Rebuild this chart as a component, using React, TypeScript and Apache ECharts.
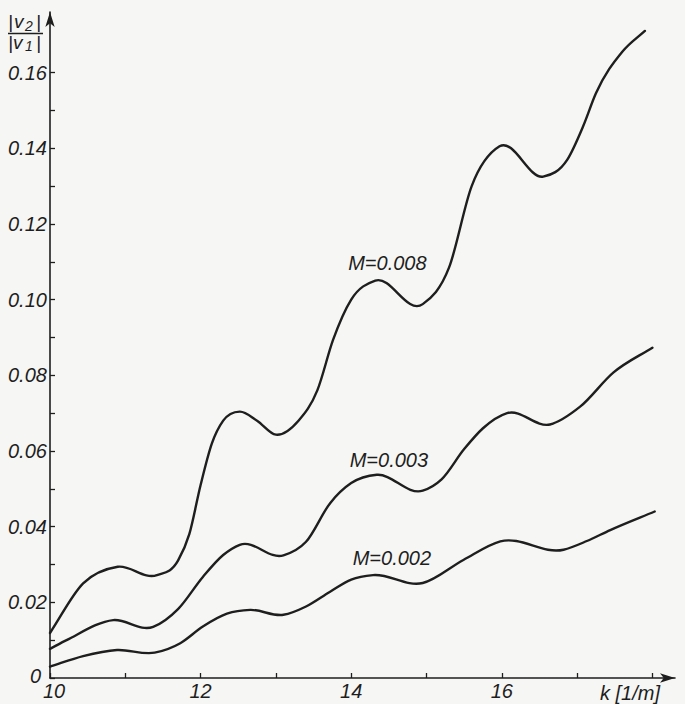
import React, { useEffect, useRef } from "react";
import * as echarts from "echarts";

// M = 0.002 : wave number k [1/m] and |v2|/|v1|
const k002 = [10, 10.44, 10.89, 11.39, 11.73, 12.03, 12.35, 12.66, 13.1, 13.4, 13.72, 14.0, 14.29, 14.95, 15.49, 15.98, 16.82, 17.13, 17.44, 18.03];
const v002 = [0.003, 0.0058, 0.0074, 0.0067, 0.0092, 0.0136, 0.017, 0.018, 0.0167, 0.0189, 0.0228, 0.026, 0.0272, 0.0251, 0.0312, 0.0361, 0.0339, 0.0362, 0.0391, 0.044];
// M = 0.003
const k003 = [10, 10.22, 10.84, 11.37, 11.7, 12.03, 12.3, 12.52, 13.1, 13.4, 13.72, 14.0, 14.34, 14.95, 15.2, 15.5, 15.75, 16.07, 16.64, 17.04, 17.48, 18.0];
const v003 = [0.0077, 0.01, 0.0153, 0.0135, 0.0182, 0.0267, 0.0325, 0.0352, 0.0324, 0.036, 0.0462, 0.0515, 0.0537, 0.0495, 0.0525, 0.0605, 0.066, 0.07, 0.067, 0.0717, 0.0807, 0.0873];
// M = 0.008
const k008 = [10, 10.44, 10.9, 11.42, 11.7, 11.85, 12.0, 12.15, 12.3, 12.52, 12.75, 13.0, 13.3, 13.55, 13.76, 14.0, 14.32, 14.95, 15.3, 15.6, 15.97, 16.55, 16.87, 17.08, 17.25, 17.6, 17.9];
const v008 = [0.0119, 0.025, 0.0294, 0.0272, 0.031, 0.038, 0.051, 0.062, 0.068, 0.0704, 0.068, 0.0643, 0.068, 0.076, 0.0894, 0.1, 0.105, 0.0988, 0.1085, 0.13, 0.1405, 0.1325, 0.137, 0.1458, 0.1545, 0.1655, 0.171];

// axis ticks and labels
const xLabelValues = [10, 12, 14, 16];
const xTickValues = [10, 11, 12, 13, 14, 15, 16, 17, 18];
const yLabelValues = [0, 0.02, 0.04, 0.06, 0.08, 0.1, 0.12, 0.14, 0.16];
const yTickValues = [0, 0.01, 0.02, 0.03, 0.04, 0.05, 0.06, 0.07, 0.08, 0.09, 0.1, 0.11, 0.12, 0.13, 0.14, 0.15, 0.16];

// curve annotations
const curveLabelText = ["M=0.008", "M=0.003", "M=0.002"];
const curveLabelK = [13.96, 13.98, 14.02];
const curveLabelV = [0.1097, 0.0576, 0.0317];

const INK = "#1e1e1e";
const FONT = '"Liberation Sans", sans-serif';

// smooth cubic Hermite path (x-parameterised) through pixel points
function splinePath(pts: number[][]): string {
  const n = pts.length;
  if (n < 2) return "";
  const slopes: number[] = [];
  for (let i = 0; i < n; i++) {
    if (i === 0) {
      slopes.push((pts[1][1] - pts[0][1]) / (pts[1][0] - pts[0][0]));
    } else if (i === n - 1) {
      slopes.push((pts[n - 1][1] - pts[n - 2][1]) / (pts[n - 1][0] - pts[n - 2][0]));
    } else {
      const h0 = pts[i][0] - pts[i - 1][0];
      const h1 = pts[i + 1][0] - pts[i][0];
      const d0 = (pts[i][1] - pts[i - 1][1]) / h0;
      const d1 = (pts[i + 1][1] - pts[i][1]) / h1;
      slopes.push((h1 * d0 + h0 * d1) / (h0 + h1));
    }
  }
  let d = `M${pts[0][0]},${pts[0][1]}`;
  for (let i = 0; i < n - 1; i++) {
    const h = pts[i + 1][0] - pts[i][0];
    const c1x = pts[i][0] + h / 3;
    const c1y = pts[i][1] + (slopes[i] * h) / 3;
    const c2x = pts[i + 1][0] - h / 3;
    const c2y = pts[i + 1][1] - (slopes[i + 1] * h) / 3;
    d += ` C${c1x},${c1y} ${c2x},${c2y} ${pts[i + 1][0]},${pts[i + 1][1]}`;
  }
  return d;
}

export default function App() {
  const ref = useRef<HTMLDivElement>(null);

  useEffect(() => {
    if (!ref.current) return;
    const chart = echarts.init(ref.current, null, { renderer: "svg" });

    const curveSeries = (name: string, ks: number[], vs: number[]) => ({
      name,
      type: "custom",
      coordinateSystem: "cartesian2d",
      data: ks.map((k, i) => [k, vs[i]]),
      encode: { x: 0, y: 1 },
      silent: true,
      clip: false,
      renderItem: (params: any, api: any) => {
        if (params.dataIndex !== 0) return null;
        const pts = ks.map((k, i) => api.coord([k, vs[i]]));
        return {
          type: "path",
          shape: { pathData: splinePath(pts) },
          style: { stroke: INK, lineWidth: 2.4, fill: "none", lineJoin: "round", lineCap: "round" },
        };
      },
    });

    chart.setOption({
      animation: false,
      backgroundColor: "#f6f6f4",
      grid: { left: 50, right: 10, top: 12, bottom: 26 },
      xAxis: {
        type: "value",
        min: 10,
        max: 18.3,
        interval: 1,
        axisLine: {
          show: true,
          onZero: false,
          symbol: ["none", "arrow"],
          symbolSize: [7, 15],
          lineStyle: { color: INK, width: 1.6 },
        },
        axisTick: {
          show: true,
          inside: true,
          length: 5,
          customValues: xTickValues,
          lineStyle: { color: INK, width: 1.3 },
        },
        axisLabel: {
          show: true,
          customValues: xLabelValues,
          margin: 3,
          color: INK,
          fontFamily: FONT,
          fontStyle: "italic",
          fontSize: 20,
          formatter: (v: number) => (v === 10 ? "{s|10}" : String(v)),
          rich: { s: { padding: [0, 0, 0, 8], fontSize: 20, fontStyle: "italic", fontFamily: FONT, color: INK } },
        },
        splitLine: { show: false },
      },
      yAxis: {
        type: "value",
        min: 0,
        max: 0.176,
        interval: 0.01,
        axisLine: {
          show: true,
          onZero: false,
          symbol: ["none", "arrow"],
          symbolSize: [7, 15],
          lineStyle: { color: INK, width: 1.6 },
        },
        axisTick: {
          show: true,
          inside: true,
          length: 5,
          customValues: yTickValues,
          lineStyle: { color: INK, width: 1.3 },
        },
        axisLabel: {
          show: true,
          customValues: yLabelValues,
          margin: 42,
          align: "left",
          color: INK,
          fontFamily: FONT,
          fontStyle: "italic",
          fontSize: 20,
          formatter: (v: number) => (Math.abs(v) < 1e-9 ? "{z|0}" : v.toFixed(2)),
          rich: { z: { padding: [0, 0, 4, 22], fontSize: 20, fontStyle: "italic", fontFamily: FONT, color: INK } },
        },
        splitLine: { show: false },
      },
      series: [
        curveSeries("M=0.008", k008, v008),
        curveSeries("M=0.003", k003, v003),
        curveSeries("M=0.002", k002, v002),
      ],
    });

    const txt = (text: string, x: number, y: number, size: number) => ({
      type: "text",
      x,
      y,
      silent: true,
      style: {
        text,
        fill: INK,
        fontFamily: FONT,
        fontStyle: "italic",
        fontSize: size,
        verticalAlign: "top",
      },
    });

    const labelEls = curveLabelText.map((t, i) => {
      const p = chart.convertToPixel({ gridIndex: 0 }, [curveLabelK[i], curveLabelV[i]]) as number[];
      return {
        type: "text",
        x: p[0],
        y: p[1],
        silent: true,
        style: {
          text: t,
          fill: INK,
          fontFamily: FONT,
          fontStyle: "italic",
          fontSize: 20,
          align: "left",
          verticalAlign: "middle",
        },
      };
    });

    chart.setOption({
      graphic: [
        // y-axis title |v2| / |v1|
        txt("|", 8, 12, 19),
        txt("v", 14, 12, 19),
        txt("2", 25, 19, 14),
        txt("|", 36, 12, 19),
        {
          type: "line",
          silent: true,
          shape: { x1: 8, y1: 33.5, x2: 43, y2: 33.5 },
          style: { stroke: INK, lineWidth: 1.5 },
        },
        txt("|", 8, 33, 19),
        txt("v", 13, 33, 19),
        txt("1", 25, 39, 14),
        txt("|", 36, 33, 19),
        // x-axis title
        txt("k [1/m]", 600, 683, 20),
        ...labelEls,
      ],
    });

    return () => chart.dispose();
  }, []);

  return (
    <div
      ref={ref}
      style={{ position: "absolute", left: 0, top: 0, width: 685, height: 704 }}
    />
  );
}
